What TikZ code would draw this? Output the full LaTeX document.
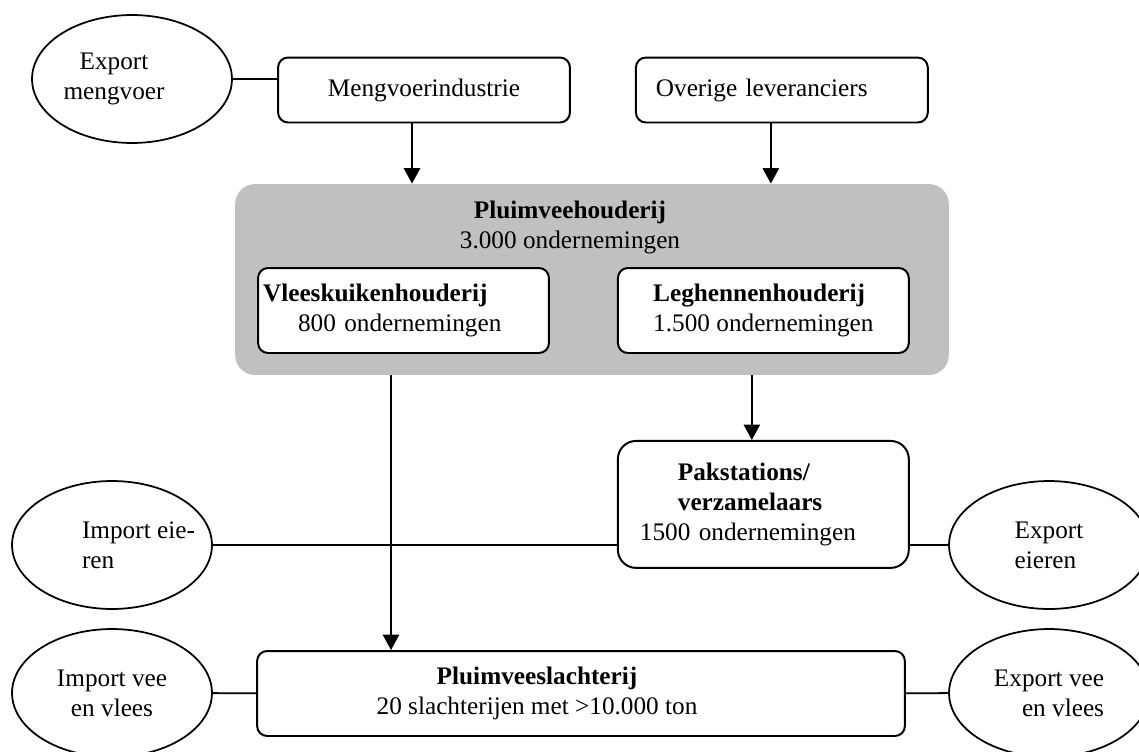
\documentclass[tikz,border=0pt]{standalone}
\usepackage{fontspec}
\setmainfont{Liberation Serif}
\usetikzlibrary{shapes.geometric, arrows.meta, calc, positioning}
\definecolor{grijs}{RGB}{192,192,192}
\tikzstyle{ovaal} = [ellipse, draw=black, line width=0.8pt, minimum width=3.2cm,
minimum height=2.048cm, inner sep=0pt, align=center]
\tikzstyle{kader} = [rectangle, rounded corners=0.16cm, draw=black, line width=0.9pt,
fill=white, minimum width=4.656cm, minimum height=1.36cm, align=center]
\tikzstyle{groep} = [rectangle, rounded corners=0.32cm, fill=grijs, minimum
width=11.424cm, minimum height=3.056cm]
\tikzstyle{lijn} = [line width=0.8pt]
\tikzstyle{pijl} = [line width=0.8pt, -{Triangle[width=7.4pt,length=7pt]}]

\begin{document}
\begin{tikzpicture}[x=0.016cm, y=-0.016cm, font=\fontsize{11.5}{13.7}\selectfont]
      \useasboundingbox (0,0) rectangle (1139,751);

      \node (exm) [ovaal, label={[name=exmtekst, xshift=-0.288cm, align=center]center:Export\\mengvoer}] at (132,79) {};
      \node (mvi) [kader, minimum width=4.672cm, minimum height=1.04cm] at (424,90) {Mengvoerindustrie};
      \node (ovl) [kader, right=1.024cm of mvi, minimum width=4.672cm, minimum height=1.04cm,
      text width=4.032cm, inner xsep=0.32cm, align=left] {Overige leveranciers};

      \node (houd) [groep] at (592,279.5) {};
      \node (houdtitel) [align=center] at (570,227) {\textbf{Pluimveehouderij} \\ 3.000 ondernemingen};
      \node (vlees) [kader, text width=4.496cm, inner xsep=0.08cm, align=left] at (403.5,310.5)
      {\textbf{Vleeskuikenhouderij} \\ \hspace*{0.56cm}800 ondernemingen};
      \node (legh) [kader, right=1.072cm of vlees, align=left] {\textbf{Leghennenhouderij} \\ 1.500 ondernemingen};

      \node (pak) [kader, below=1.376cm of legh, minimum height=2.032cm, rounded corners=0.29cm,
      text width=4.496cm, inner xsep=0.08cm, align=left]
      {\hspace*{0.88cm}\textbf{Pakstations/} \\ \hspace*{0.88cm}\textbf{verzamelaars} \\ \hspace*{0.272cm}1500 ondernemingen};
      \node (slacht) [kader, minimum width=10.368cm, label={[name=slachttekst, xshift=-0.704cm,
      align=center]center:\textbf{Pluimveeslachterij} \\ 20 slachterijen met >10.000 ton}] at (581,693.5) {};

      \node (impei) [ovaal, label={[name=impeitekst, xshift=0.424cm, align=left]center:Import eie-\\ren}] at (112,545) {};
      \node (expei) [ovaal, align=left] at (1049,545) {Export \\ eieren};
      \node (impvv) [ovaal] at (112,693) {Import vee \\ en vlees};
      \node (expvv) [ovaal, align=right] at (1049,693) {Export vee \\ en vlees};

      \coordinate (m1) at ([xshift=-0.192cm]mvi.south);
      \coordinate (o1) at ([xshift=-0.176cm]ovl.south);
      \coordinate (v1) at ([xshift=-0.2cm]vlees.south);
      \coordinate (l1) at ([xshift=-0.184cm]pak.north);

      \draw [lijn] (exm.east) -- (exm.east -| mvi.west);
      \draw [pijl] (m1) -- (m1 |- houd.north);
      \draw [pijl] (o1) -- (o1 |- houd.north);
      \draw [pijl] (v1 |- houd.south) -- (v1 |- slacht.north);
      \draw [pijl] (l1 |- houd.south) -- (l1);
      \draw [lijn] (impei.east) -- (impei.east -| pak.west);
      \draw [lijn] (pak.east |- expei.west) -- (expei.west);
      \draw [lijn] (impvv) -- (slacht);
      \draw [lijn] (slacht) -- (expvv);
    \end{tikzpicture}
\end{document}
